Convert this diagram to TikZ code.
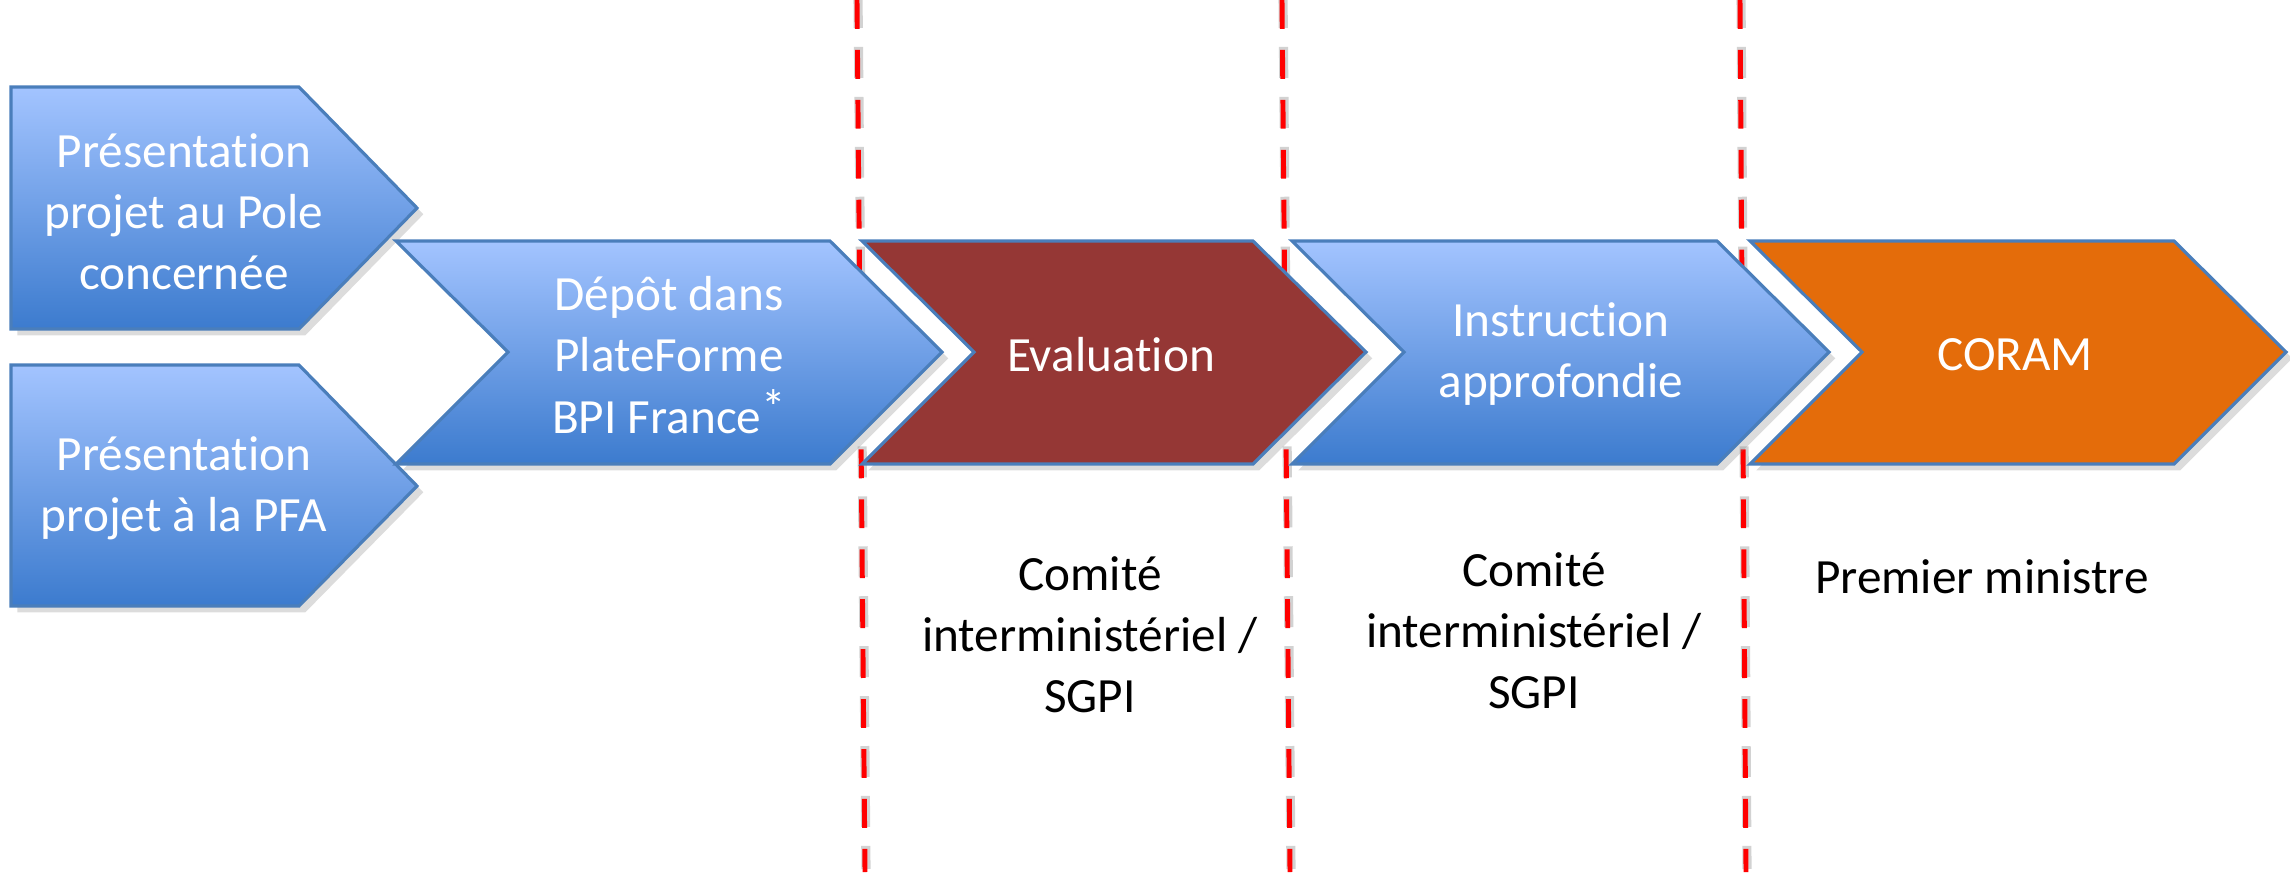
\documentclass[tikz,border=0pt]{standalone}
\usepackage{fontspec}
\setmainfont{Carlito}[Ligatures=NoCommon]
\usetikzlibrary{shadows}
\definecolor{bluetop}{HTML}{A3C4FF}
\definecolor{bluebot}{HTML}{3C7BCE}
\definecolor{edgeblue}{HTML}{4A7EBB}
\definecolor{evalred}{HTML}{953735}
\definecolor{coramorange}{HTML}{E46C0A}
\tikzset{
  shapebase/.style={draw=edgeblue, line width=0.9pt, line join=miter,
    drop shadow={opacity=0.28, shadow xshift=1.8pt, shadow yshift=-1.8pt}},
  bluegrad/.style={shapebase, top color=bluetop, bottom color=bluebot},
  whitetxt/.style={text=white, align=center, font=\fontsize{14}{17.4}\selectfont},
  blacktxt/.style={text=black, align=center, font=\fontsize{14}{17.4}\selectfont},
  sepline/.style={draw=red, line width=1.4pt, dash pattern=on 8.2pt off 6pt},
  sepshadow/.style={draw=black!35, opacity=0.5, line width=2.6pt, dash pattern=on 8.8pt off 5.4pt},
}
\begin{document}
\begin{tikzpicture}[x=0.01cm, y=-0.01cm]
\useasboundingbox (0,0) rectangle (2290,872);
% separator lines (behind)
\foreach \a/\b in {857/865, 1282/1290, 1740/1746}{
  \draw[sepshadow] (\a+1,-3) -- (\b+1,869);
  \draw[sepline] (\a,0) -- (\b,872);
}
% shapes
\path[bluegrad] (11,87) -- (299,87) -- (417,208) -- (299,329) -- (11,329) -- cycle;
\path[bluegrad] (11,365) -- (299,365) -- (417,486) -- (299,606) -- (11,606) -- cycle;
\path[bluegrad] (396,241) -- (830,241) -- (942,352) -- (830,464) -- (396,464) -- (508,352) -- cycle;
\path[shapebase, fill=evalred] (862,241) -- (1253,241) -- (1366,352) -- (1253,464) -- (862,464) -- (974,352) -- cycle;
\path[bluegrad] (1292,241) -- (1717,241) -- (1829,352) -- (1717,464) -- (1292,464) -- (1404,352) -- cycle;
\path[shapebase, fill=coramorange] (1750,241) -- (2174,241) -- (2286,352) -- (2174,464) -- (1750,464) -- (1862,352) -- cycle;
% texts
\node[whitetxt] (pole) at (184,212) {Présentation\\projet au Pole\\concernée};
\node[whitetxt] (pfa) at (184,488) {Présentation\\projet à la PFA};
\node[whitetxt] (depot) at (669,355) {Dépôt dans\\PlateForme\\BPI France\raisebox{0.18em}{*}};
\node[whitetxt] (eval) at (1111,355) {Evaluation};
\node[whitetxt] (instr) at (1561,354) {Instruction\\approfondie};
\node[whitetxt] (coram) at (2015,355) {CORAM};
\node[blacktxt] (comite1) at (1090,635) {Comité\\interministériel /\\SGPI};
\node[blacktxt] (comite2) at (1534,631) {Comité\\interministériel /\\SGPI};
\node[blacktxt] (pm) at (1982,577) {Premier ministre};
\end{tikzpicture}
\end{document}
